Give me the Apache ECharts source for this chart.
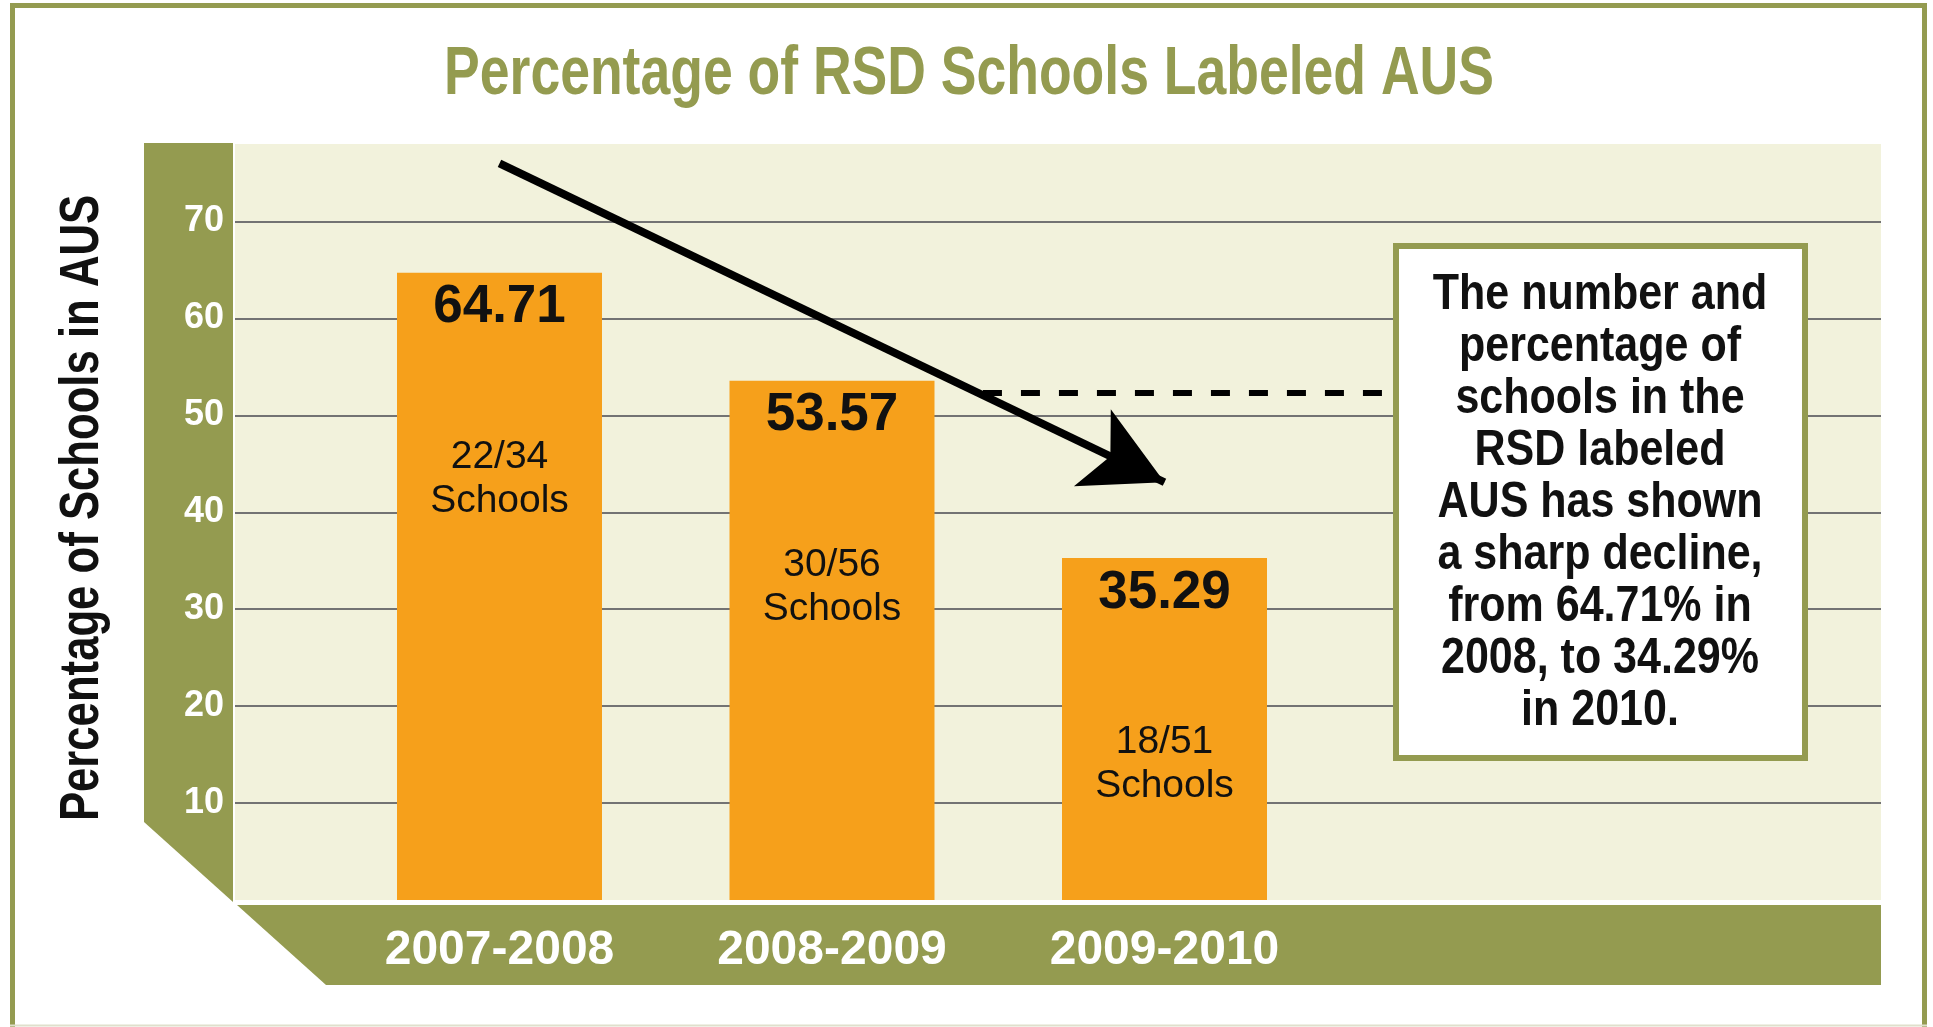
<!DOCTYPE html>
<html>
<head>
<meta charset="utf-8">
<title>Percentage of RSD Schools Labeled AUS</title>
<script src="https://cdn.jsdelivr.net/npm/echarts@6/dist/echarts.min.js"></script>
<style>
  html, body { margin: 0; padding: 0; background: #fff; }
  #chart { width: 1933px; height: 1027px; }
</style>
</head>
<body>
<div id="chart"></div>
<script>
// data
const years = ['2007-2008', '2008-2009', '2009-2010'];
const percents = [64.71, 53.57, 35.29];
const counts = ['22/34', '30/56', '18/51'];
const yTicks = [10, 20, 30, 40, 50, 60, 70];

// annotation lines, in [bar index, percent]
const arrowFrom = [0, 76.0];
const arrowTo = [2, 43.1];
const dashFrom = [1.454, 52.3];
const dashTo = [2.69, 52.3];

const note = [
  'The number and',
  'percentage of',
  'schools in the',
  'RSD labeled',
  'AUS has shown',
  'a sharp decline,',
  'from 64.71% in',
  '2008, to 34.29%',
  'in 2010.'
];

const OLIVE = '#949b50';
const CREAM = '#f2f2dc';
const ORANGE = '#f6a01b';
const SANS = '"Liberation Sans", Arial, sans-serif';

const chart = echarts.init(document.getElementById('chart'));

chart.setOption({
  animation: false,
  grid: [
    // cream plot area, carries the y scale and gridlines
    { left: 235, top: 144, width: 1646, height: 756, show: true, backgroundColor: CREAM,
      borderWidth: 0, outerBoundsMode: 'none' },
    // the three bars
    { left: 333.25, top: 144, width: 997.5, height: 756, outerBoundsMode: 'none' }
  ],
  xAxis: [
    { type: 'value', gridIndex: 0, min: -0.7955, max: 4.155, show: false },
    {
      type: 'category', gridIndex: 1, data: years,
      axisLine: { show: false }, axisTick: { show: false },
      axisLabel: { interval: 0, color: '#fff', fontFamily: SANS, fontWeight: 'bold', fontSize: 48, lineHeight: 48, margin: 27 }
    }
  ],
  yAxis: [
    {
      type: 'value', gridIndex: 0, min: 0, max: 78, interval: 10,
      axisLine: { show: false }, axisTick: { show: false },
      axisLabel: {
        color: '#fff', fontFamily: SANS, fontWeight: 'bold', fontSize: 36, margin: 11,
        showMinLabel: false, showMaxLabel: false,
        formatter: v => (yTicks.includes(v) ? String(v) : '')
      },
      splitLine: { show: true, showMinLine: false, showMaxLine: false, lineStyle: { color: '#737373', width: 2 } }
    },
    { type: 'value', gridIndex: 1, min: 0, max: 78, show: false }
  ],
  series: [
    {
      type: 'bar', xAxisIndex: 1, yAxisIndex: 1, data: percents,
      barWidth: 205, barGap: '-100%', itemStyle: { color: ORANGE }, z: 3,
      label: {
        show: true, position: 'insideTop', distance: 9,
        formatter: p => p.value.toFixed(2),
        color: '#111', fontFamily: SANS, fontWeight: 'bold', fontSize: 53, lineHeight: 52
      }
    },
    {
      type: 'bar', xAxisIndex: 1, yAxisIndex: 1, data: percents, silent: true,
      barWidth: 205, barGap: '-100%', itemStyle: { color: 'transparent' }, z: 4,
      label: {
        show: true, position: 'insideTop', distance: 162,
        formatter: p => counts[p.dataIndex] + '\nSchools',
        color: '#111', fontFamily: SANS, fontSize: 39, lineHeight: 44
      }
    },
    {
      type: 'line', xAxisIndex: 0, yAxisIndex: 0, data: [], silent: true,
      markLine: {
        silent: true, animation: false,
        label: { show: false },
        emphasis: { disabled: true },
        data: [
          [
            { coord: arrowFrom, symbol: 'none', lineStyle: { color: '#000', width: 8, type: 'solid' } },
            { coord: arrowTo, symbol: 'arrow', symbolSize: [64, 80] }
          ],
          [
            { coord: dashFrom, symbol: 'none', lineStyle: { color: '#000', width: 6, type: [19, 19] } },
            { coord: dashTo, symbol: 'none' }
          ]
        ]
      }
    }
  ],
  graphic: [
    { type: 'rect', silent: true, shape: { x: 12.5, y: 5.5, width: 1912, height: 1040 },
      style: { fill: 'none', stroke: OLIVE, lineWidth: 5 } },
    { type: 'line', silent: true, shape: { x1: 10, y1: 1025.5, x2: 1927, y2: 1025.5 },
      style: { stroke: '#dfe0cc', lineWidth: 2 } },
    // condensed title
    { type: 'text', silent: true, x: 969, y: 75, scaleX: 0.787,
      style: { text: 'Percentage of RSD Schools Labeled AUS', fill: OLIVE, align: 'center', verticalAlign: 'middle',
        font: 'bold 68px ' + SANS } },
    // y axis title
    { type: 'text', silent: true, x: 83, y: 508, rotation: Math.PI / 2, scaleX: 0.78,
      style: { text: 'Percentage of Schools in AUS', fill: '#111', align: 'center', verticalAlign: 'middle',
        font: 'bold 56px ' + SANS } },
    { type: 'polygon', silent: true, z: -10, shape: { points: [[144, 143], [233, 143], [233, 902], [144, 822]] },
      style: { fill: OLIVE } },
    { type: 'polygon', silent: true, z: -10, shape: { points: [[237, 905], [1881, 905], [1881, 985], [326, 985]] },
      style: { fill: OLIVE } },
    {
      type: 'group', z: 100, silent: true,
      children: [
        { type: 'rect', z: 100, shape: { x: 1396, y: 246, width: 409, height: 512 },
          style: { fill: '#fff', stroke: OLIVE, lineWidth: 6 } },
        { type: 'text', z: 101, x: 1600, y: 269, scaleX: 0.86,
          style: { text: note.join('\n'), fill: '#111', align: 'center', verticalAlign: 'top',
            font: 'bold 50px ' + SANS, lineHeight: 52 } }
      ]
    }
  ]
});
</script>
</body>
</html>
